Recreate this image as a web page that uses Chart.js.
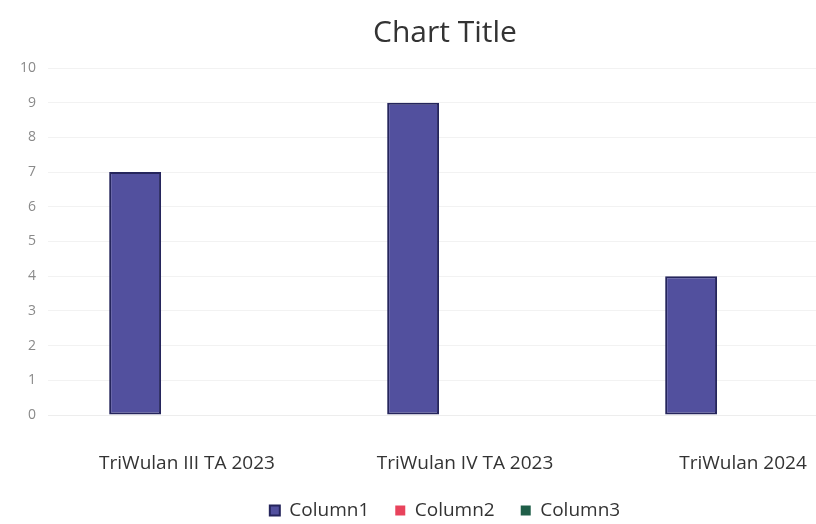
<!DOCTYPE html>
<html>
<head>
<meta charset="utf-8">
<script src="https://cdn.jsdelivr.net/npm/chart.js@4"></script>
<style>
html,body{margin:0;padding:0;background:#fff;overflow:hidden;width:816px;height:524px;}
#wrap{position:relative;width:900px;height:524px;}
</style>
</head>
<body>
<div id="wrap"><canvas id="c" width="900" height="524"></canvas></div>
<script>
const categories = ["TriWulan III TA 2023", "TriWulan IV TA 2023", "TriWulan 2024"];
const column1 = [7, 9, 4];
const column2 = [null, null, null];
const column3 = [null, null, null];
const yTicks = [0,1,2,3,4,5,6,7,8,9,10];

const font = "'Open Sans', Lato, sans-serif";
new Chart(document.getElementById('c'), {
  type: 'bar',
  data: {
    labels: categories,
    datasets: [
      {label: 'Column1', data: column1, backgroundColor: '#52509e', borderColor: '#25255c', borderWidth: 2, borderSkipped: false},
      {label: 'Column2', data: column2, backgroundColor: '#e8435c', borderColor: '#e8435c'},
      {label: 'Column3', data: column3, backgroundColor: '#1f5e48', borderColor: '#1f5e48'}
    ]
  },
  options: {
    responsive: false,
    animation: false,
    datasets: {bar: {categoryPercentage: 0.56, barPercentage: 1}},
    layout: {padding: {left: 8, right: 18, top: 8, bottom: -6}},
    plugins: {
      title: {display: true, text: 'Chart Title', color: '#333', font: {family: font, size: 30, weight: 'normal'}, padding: {top: 7, bottom: 17}},
      legend: {position: 'bottom', labels: {color: '#333', font: {family: font, size: 19}, usePointStyle: true, pointStyle: 'rect', boxWidth: 10, boxHeight: 10, padding: 26}},
      tooltip: {enabled: false}
    },
    scales: {
      x: {
        grid: {display: false},
        border: {display: true, color: '#ededed'},
        ticks: {color: '#333', font: {family: font, size: 19}, padding: 29, maxRotation: 0},
        afterFit: (s) => { s.height = 60; }
      },
      y: {
        min: 0, max: 10,
        afterBuildTicks: (s) => { s.ticks = yTicks.map(v => ({value: v})); },
        grid: {color: '#f2f2f2', drawTicks: false},
        border: {display: false},
        ticks: {color: '#8a8a8a', font: {family: font, size: 14}, padding: 12}
      }
    }
  }
});
</script>
</body>
</html>
